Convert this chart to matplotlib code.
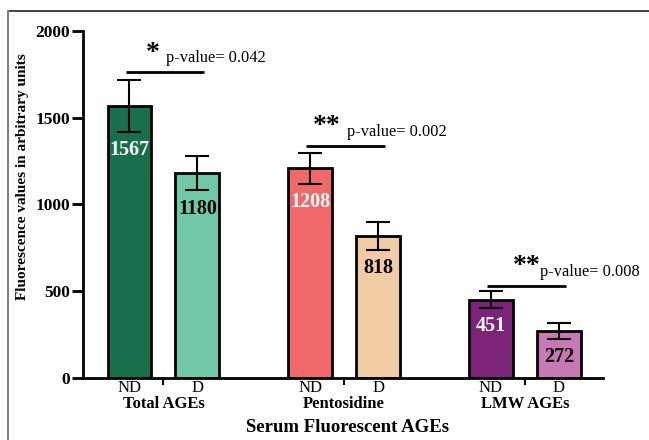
import matplotlib.pyplot as plt
from matplotlib.lines import Line2D

plt.rcParams['font.family'] = ['Liberation Serif', 'DejaVu Serif']

groups = ["Total AGEs", "Pentosidine", "LMW AGEs"]
subgroups = ["ND", "D"]
nd_values = [1567, 1208, 451]
d_values = [1180, 818, 272]
nd_errors = [150, 90, 50]
d_errors = [100, 80, 45]
nd_colors = ["#17704b", "#f06869", "#7c2479"]
d_colors = ["#70c8a6", "#f0cba3", "#c878b5"]
nd_text_colors = ["white", "white", "white"]
d_text_colors = ["black", "black", "black"]
stars = ["*", "**", "**"]
p_labels = ["p-value= 0.042", "p-value= 0.002", "p-value= 0.008"]
line_heights = [1762, 1336, 530]
star_heights = [1870, 1450, 645]
p_heights = [1843, 1417, 610]

fig = plt.figure(figsize=(6.49, 4.40), dpi=100)
ax = fig.add_axes([0.1274, 0.141, 0.8016, 0.789])

off = 0.188
width = 0.243
for i in range(len(groups)):
    for x, v, e, c, tc in [(i - off, nd_values[i], nd_errors[i], nd_colors[i], nd_text_colors[i]),
                           (i + off, d_values[i], d_errors[i], d_colors[i], d_text_colors[i])]:
        ax.bar(x, v, width=width, color=c, edgecolor="black", linewidth=2, zorder=2)
        ax.errorbar(x, v, yerr=e, color="black", capsize=8.5, elinewidth=1.5,
                    capthick=1.5, zorder=3)
        ax.annotate(str(v), (x, v - e), xytext=(0, -13), textcoords="offset points",
                    ha="center", va="center", fontsize=14.5, fontweight="bold",
                    color=tc, zorder=4)

    # significance bar with stars and p-value
    ax.plot([i - 0.21, i + 0.225], [line_heights[i]] * 2, color="black", lw=2,
            solid_capstyle="butt", clip_on=False)

star_x = [-0.058, 0.903, 2.012]
p_x = [0.012, 1.015, 2.085]
for i in range(len(groups)):
    ax.text(star_x[i], star_heights[i], stars[i], ha="center", va="center",
            fontsize=20, fontweight="bold")
    ax.text(p_x[i], p_heights[i], p_labels[i], ha="left", va="center", fontsize=11.8)

ax.set_xlim(-0.447, 2.432)
ax.set_ylim(0, 2000)
ax.set_yticks([0, 500, 1000, 1500, 2000])
ax.set_xticks([])
ax.set_xticks(range(len(groups)), minor=True)
ax.set_xticklabels([], minor=True)
ax.tick_params(axis="x", which="minor", length=5, width=1.5, direction="out")
ax.tick_params(axis="y", length=8, width=2, labelsize=12.5, pad=1)
for lab in ax.get_yticklabels():
    lab.set_fontweight("bold")

for s in ["top", "right"]:
    ax.spines[s].set_visible(False)
for s in ["left", "bottom"]:
    ax.spines[s].set_linewidth(2)

# ND / D under each bar, then group names
for i, g in enumerate(groups):
    for x, name in [(i - off, subgroups[0]), (i + off, subgroups[1])]:
        ax.annotate(name, (x, 0), xytext=(0, -7.5), textcoords="offset points",
                    ha="center", va="center", fontsize=12,
                    xycoords=("data", "axes fraction"))
    ax.annotate(g, (i, 0), xytext=(0, -19), textcoords="offset points",
                ha="center", va="center", fontsize=12, fontweight="bold",
                xycoords=("data", "axes fraction"))

ax.set_xlabel("Serum Fluorescent AGEs", fontsize=13.5, fontweight="bold")
ax.xaxis.set_label_coords(0.51, -0.144)
ax.xaxis.label.set_va("center")
ax.set_ylabel("Fluorescence values in arbitrary units", fontsize=11, fontweight="bold")
ax.yaxis.set_label_coords(-0.103, 0.579)

# thin frame around the figure: top and left edges
fig.add_artist(Line2D([8 / 649, 1], [1 - 11 / 440] * 2, color="#222222", lw=1.2))
fig.add_artist(Line2D([8 / 649] * 2, [0, 1 - 11 / 440], color="#808080", lw=1.5))

fig.savefig("out.png", dpi=100)
